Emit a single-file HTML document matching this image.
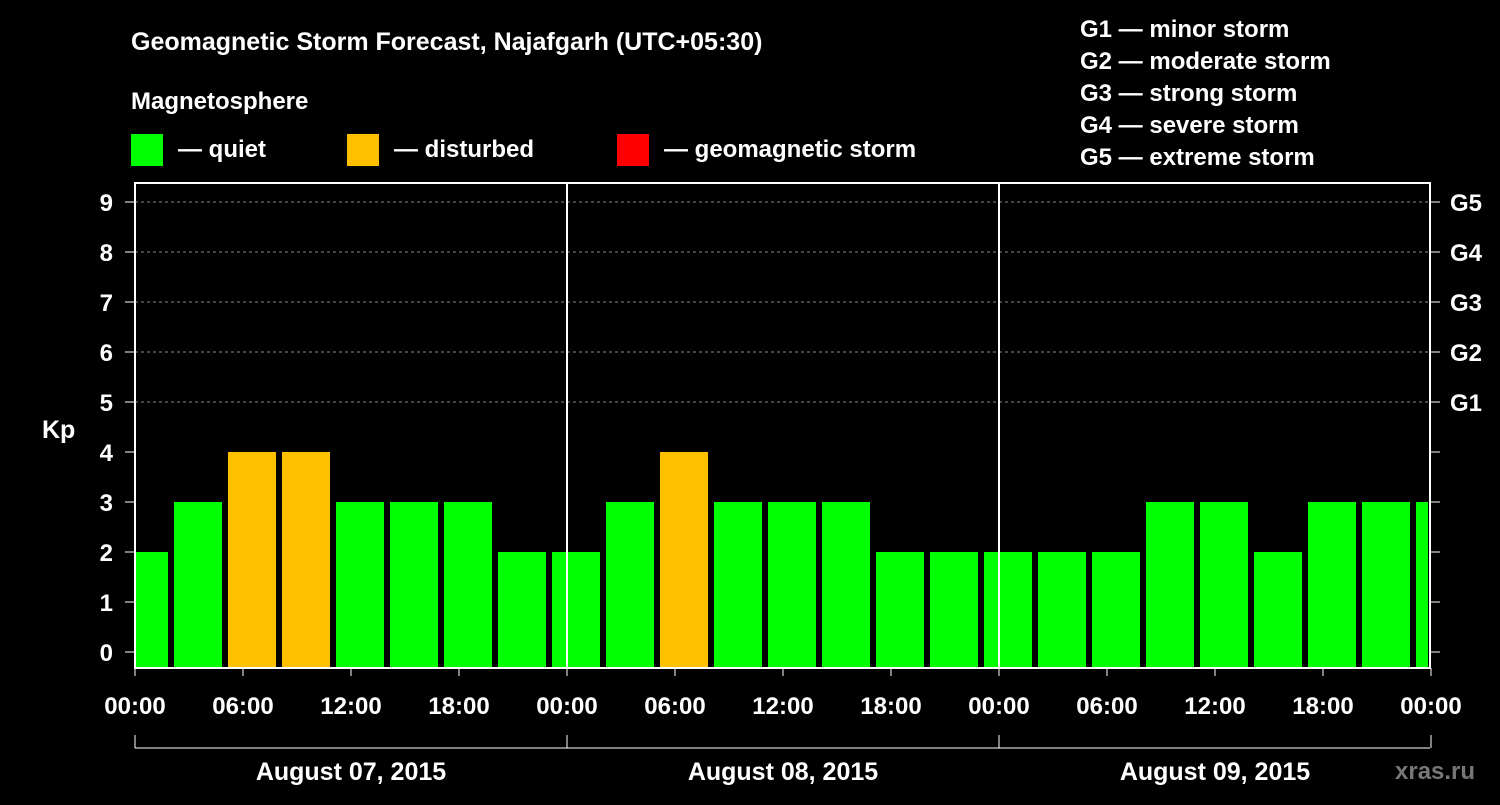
<!DOCTYPE html>
<html><head><meta charset="utf-8"><style>
body{margin:0;background:#000;width:1500px;height:800px;overflow:hidden}
svg text{font-family:"Liberation Sans",sans-serif;font-weight:bold;fill:#fff}
</style></head><body>
<svg width="1500" height="800">
<text x="131" y="50" font-size="25">Geomagnetic Storm Forecast, Najafgarh (UTC+05:30)</text>
<text x="131" y="109" font-size="24">Magnetosphere</text>
<g>
<rect x="131" y="134" width="32" height="32" fill="#00ff00"/><text x="178" y="157" font-size="24">— quiet</text>
<rect x="347" y="134" width="32" height="32" fill="#ffc000"/><text x="394" y="157" font-size="24">— disturbed</text>
<rect x="617" y="134" width="32" height="32" fill="#ff0000"/><text x="664" y="157" font-size="24">— geomagnetic storm</text>
</g>
<g font-size="24">
<text x="1080" y="37">G1 — minor storm</text><text x="1080" y="69">G2 — moderate storm</text>
<text x="1080" y="101">G3 — strong storm</text><text x="1080" y="133">G4 — severe storm</text>
<text x="1080" y="165">G5 — extreme storm</text></g>
<text x="42" y="438" font-size="25">Kp</text>
<text x="1395" y="779" font-size="24" style="fill:#777">xras.ru</text>
<g id="plot"></g>
</svg>
<script>
const kpValues=[2,3,4,4,3,3,3,2,2,3,4,3,3,3,2,2,2,2,2,3,3,2,3,3,3];
const yTicks=[0,1,2,3,4,5,6,7,8,9];
const gLabels=["G1","G2","G3","G4","G5"];
const dayLabels=["August 07, 2015","August 08, 2015","August 09, 2015"];
const timeLabels=["00:00","06:00","12:00","18:00"];
const NS="http://www.w3.org/2000/svg",g=document.getElementById('plot');
const X0=135,X1=1430,PX_H=18,Y0=652,PY=50,TOP=183,BOT=668;
const x=h=>X0+h*PX_H, y=v=>Y0-v*PY;
function mk(t,a,txt){const e=document.createElementNS(NS,t);for(const k in a)e.setAttribute(k,a[k]);if(txt!==undefined)e.textContent=txt;g.appendChild(e);return e;}
yTicks.forEach(v=>{
 if(v>=5){const l=mk('line',{x1:X0,x2:X1,y1:y(v),y2:y(v),stroke:'#888','stroke-dasharray':'3,3'});}
 mk('line',{x1:X0-10,x2:X0,y1:y(v),y2:y(v),stroke:'#fff'});
 mk('line',{x1:X1,x2:X1+10,y1:y(v),y2:y(v),stroke:'#fff'});
 const t=mk('text',{x:113,y:y(v)+9,'font-size':24,'text-anchor':'end'},v);
 
});
gLabels.forEach((s,i)=>{const t=mk('text',{x:1450,y:y(5+i)+9,'font-size':24},s);});
kpValues.forEach((v,k)=>{
 const c=x(0.5+3*k);let l=Math.max(c-24,X0+1),r=Math.min(c+24,X1-2);
 const b=mk('rect',{x:l,y:y(v),width:r-l,height:BOT-y(v),fill:v>=5?'#ff0000':v>=4?'#ffc000':'#00ff00'});
 
});
mk('rect',{x:X0,y:TOP,width:X1-X0,height:BOT-TOP,fill:'none',stroke:'#fff','stroke-width':2});
[1,2].forEach(d=>mk('line',{x1:x(24*d),x2:x(24*d),y1:TOP,y2:BOT,stroke:'#fff','stroke-width':2}));
for(let d=0;d<=3;d++){
 for(let i=0;i<(d<3?4:1);i++){const h=24*d+6*i;
  mk('line',{x1:x(h),x2:x(h),y1:BOT,y2:BOT+8,stroke:'#fff'});
  const t=mk('text',{x:x(h),y:714,'font-size':24,'text-anchor':'middle'},timeLabels[i]);
  }
 mk('line',{x1:x(24*d),x2:x(24*d),y1:735,y2:748,stroke:'#fff'});
}
mk('line',{x1:X0,x2:X1,y1:748,y2:748,stroke:'#fff'});
dayLabels.forEach((s,d)=>{const t=mk('text',{x:x(24*d+12),y:780,'font-size':25,'text-anchor':'middle'},s);});
</script>
</body></html>
